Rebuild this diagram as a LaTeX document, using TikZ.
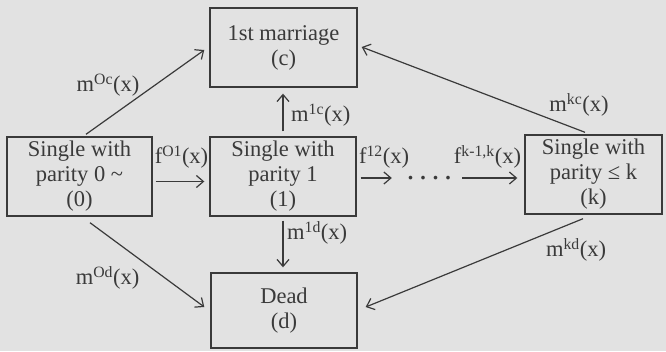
\documentclass[tikz,border=0pt]{standalone}
\usepackage{fontspec}
\setmainfont{Liberation Serif}
\usetikzlibrary{arrows.meta}
\definecolor{paper}{RGB}{226,226,226}
\definecolor{ink}{RGB}{58,58,58}
\begin{document}
\begin{tikzpicture}[x=1pt,y=-1pt,
  box/.style={draw=ink, line width=1.4pt, align=center, text=ink,
    font=\fontsize{22.5}{25}\selectfont, inner sep=0pt},
  lab/.style={text=ink, font=\fontsize{22.5}{25}\selectfont, inner sep=0pt},
  arr/.style={draw=ink, line width=1.2pt, -{Straight Barb[length=7pt,width=12pt]}}]
\fill[paper] (0,0) rectangle (666,351);
\useasboundingbox (0,0) rectangle (666,351);

% boxes
\node[box, minimum width=147pt, minimum height=79pt] (c) at (283.5,47.5) {1st marriage\\(c)};
\node[box, minimum width=145pt, minimum height=79pt] (s0) at (79.5,176.5) {Single with\\parity 0 \textasciitilde\\(0)};
\node[box, minimum width=146pt, minimum height=79pt] (s1) at (283,176.5) {Single with\\parity 1\\(1)};
\node[box, minimum width=137pt, minimum height=79pt] (sk) at (593.5,174.5) {Single with\\parity ≤ k\\(k)};
\node[box, minimum width=146pt, minimum height=75pt] (d) at (284,310.5) {Dead\\(d)};
\node[lab, inner xsep=8pt, font=\fontsize{22.5}{25}\selectfont\bfseries] (dots) at (429.5,181) {·\hspace{5pt}·\hspace{5pt}·\hspace{5pt}·};
\coordinate (dl) at (dots.west |- 0,178);
\coordinate (dr) at (dots.east |- 0,178);

% connectors
\draw[arr] ([xshift=6.5pt,yshift=2pt]s0.north) -- ([xshift=-5pt,yshift=-2.5pt]c.west);
\draw[arr, shorten <=5pt, shorten >=6pt] (s1.north) -- (s1.north |- c.south);
\draw[arr, shorten <=4pt, shorten >=5pt] (s1.south) -- (s1.south |- d.north);
\draw[arr] ([xshift=10.5pt,yshift=-6pt]s0.south) -- ([xshift=-6pt,yshift=3.5pt]d.west);
\draw[arr] ([xshift=-8.5pt,yshift=2pt]sk.north) -- ([xshift=4pt,yshift=0.5pt]c.east);
\draw[arr] ([xshift=-10.5pt,yshift=-4pt]sk.south) -- ([xshift=8pt,yshift=3.5pt]d.east);
\draw[arr, shorten <=3pt, shorten >=5pt] ([yshift=-5pt]s0.east) -- ([yshift=-5pt]s1.west);
\draw[arr, shorten <=4pt, shorten >=7pt] (dl -| s1.east) -- (dl);
\draw[arr, shorten <=2pt, shorten >=7pt] (dr) -- (dr -| sk.west);

% labels
\node[lab] (l0c) at (108,85) {m\textsuperscript{Oc}(x)};
\node[lab, anchor=west] (l1c) at (291,115) {m\textsuperscript{1c}(x)};
\node[lab] (l01) at (181.5,157) {f\textsuperscript{O1}(x)};
\node[lab] (l12) at (384,157) {f\textsuperscript{12}(x)};
\node[lab] (lk) at (487.5,157) {f\textsuperscript{k-1,k}(x)};
\node[lab] (lkc) at (579,105) {m\textsuperscript{kc}(x)};
\node[lab] (l0d) at (107.5,278) {m\textsuperscript{Od}(x)};
\node[lab, anchor=west] (l1d) at (287,233) {m\textsuperscript{1d}(x)};
\node[lab] (lkd) at (576,250) {m\textsuperscript{kd}(x)};
\end{tikzpicture}
\end{document}
